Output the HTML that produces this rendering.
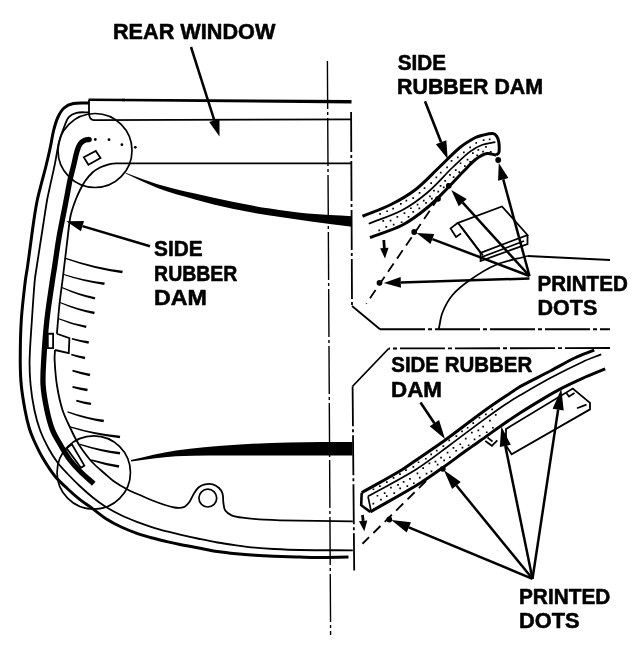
<!DOCTYPE html>
<html><head><meta charset="utf-8"><title>Rear window side rubber dam</title>
<style>
html,body{margin:0;padding:0;background:#fff}
svg{display:block;will-change:transform}
text{font-family:"Liberation Sans",sans-serif;font-weight:bold;fill:#000;stroke:#000;stroke-width:0.55px;stroke-linejoin:round}
</style></head><body>
<svg width="640" height="654" viewBox="0 0 640 654">
<rect width="640" height="654" fill="#fff"/>
<path d="M88.5 99.8 L125 99.95" fill="none" stroke="#000" stroke-width="2.5" />
<path d="M122 98.7 L351.5 100.1 L351.5 103.4 L122 101.3Z" fill="#000" />
<path d="M89 100 L89 113 Q89.2 120.1 94 120.1 L351.3 119.4" fill="none" stroke="#000" stroke-width="1.8" />
<path d="M89.00 103.00 C83.80 103.17 78.40 102.50 73.40 103.50 C70.06 104.17 66.49 105.77 64.00 108.00 C61.29 110.43 59.38 114.10 57.80 117.50 C55.97 121.44 54.81 125.76 53.75 130.00 C52.21 136.17 51.35 142.52 50.00 148.75 C48.60 155.19 47.09 161.61 45.50 168.00 C44.25 173.02 42.78 177.99 41.50 183.00 C40.05 188.65 38.47 194.29 37.30 200.00 C35.94 206.62 34.88 213.31 33.90 220.00 C31.58 235.81 29.64 251.68 27.40 267.50 C26.81 271.68 25.89 275.81 25.40 280.00 C23.85 293.31 22.16 306.63 21.30 320.00 C20.44 333.30 20.26 346.67 20.25 360.00 C20.24 368.34 20.46 376.71 21.25 385.00 C22.05 393.38 23.47 401.72 25.00 410.00 C26.12 416.05 27.48 422.10 29.20 428.00 C30.40 432.10 31.99 436.10 33.75 440.00 C36.43 445.94 39.21 451.88 42.50 457.50 C46.29 463.97 50.33 470.41 55.00 476.25 C58.66 480.83 63.20 484.72 67.50 488.75 C71.54 492.54 75.67 496.26 80.00 499.70 C84.00 502.88 88.37 505.58 92.50 508.60 C96.90 511.82 101.02 515.47 105.60 518.40 C110.60 521.60 115.89 524.45 121.25 527.00 C126.32 529.41 131.60 531.43 136.90 533.30 C142.02 535.10 147.27 536.55 152.50 538.00 C157.63 539.42 162.82 540.67 168.00 541.90 C171.98 542.84 175.99 543.70 180.00 544.50 C186.24 545.74 192.50 546.83 198.75 548.00 C205.00 549.17 211.22 550.54 217.50 551.50 C223.72 552.45 229.99 553.12 236.25 553.75 C242.49 554.37 248.74 554.84 255.00 555.25 C261.24 555.66 267.50 555.96 273.75 556.20 C282.50 556.54 291.25 556.76 300.00 557.00 C305.63 557.16 311.27 557.40 316.90 557.40 C327.43 557.40 337.97 557.13 348.50 557.00" fill="none" stroke="#000" stroke-width="3.0" />
<path d="M89.00 112.30 C84.83 112.47 80.44 111.85 76.50 112.80 C73.69 113.48 70.66 115.10 68.75 117.20 C66.66 119.50 65.77 123.00 64.50 126.00 C63.25 128.94 62.16 131.96 61.20 135.00 C60.06 138.62 59.01 142.29 58.20 146.00 C56.94 151.76 56.18 157.62 55.00 163.40 C53.18 172.29 51.11 181.13 49.20 190.00 C48.48 193.33 47.68 196.65 47.10 200.00 C45.88 206.98 44.89 214.00 43.80 221.00 C41.39 236.50 38.97 251.99 36.60 267.50 C35.97 271.66 35.18 275.81 34.80 280.00 C33.61 293.31 32.77 306.66 31.90 320.00 C31.03 333.33 29.87 346.66 29.60 360.00 C29.43 368.33 29.80 376.71 30.60 385.00 C31.40 393.38 32.68 401.76 34.40 410.00 C35.81 416.76 37.60 423.53 40.00 430.00 C42.39 436.45 45.49 442.69 48.75 448.75 C51.32 453.52 54.25 458.17 57.50 462.50 C60.50 466.50 64.05 470.11 67.50 473.75 C71.55 478.03 75.70 482.22 80.00 486.25 C84.04 490.04 88.18 493.75 92.50 497.20 C96.71 500.56 101.04 503.83 105.60 506.70 C110.63 509.87 115.90 512.70 121.25 515.30 C126.34 517.77 131.62 519.87 136.90 521.90 C142.03 523.87 147.25 525.65 152.50 527.30 C157.62 528.91 162.81 530.32 168.00 531.70 C171.98 532.76 175.99 533.68 180.00 534.60 C186.24 536.03 192.49 537.43 198.75 538.75 C204.99 540.06 211.22 541.40 217.50 542.50 C223.72 543.59 229.99 544.45 236.25 545.30 C242.49 546.15 248.74 546.98 255.00 547.60 C261.24 548.22 267.49 548.67 273.75 549.00 C282.49 549.47 291.25 549.86 300.00 550.00 C317.60 550.29 335.20 550.20 352.80 550.30" fill="none" stroke="#000" stroke-width="1.8" />
<path d="M115.00 163.30 C112.67 163.73 110.28 163.96 108.00 164.60 C105.28 165.36 102.51 166.22 100.00 167.50 C97.34 168.85 94.69 170.49 92.50 172.50 C89.69 175.07 87.22 178.14 85.00 181.25 C83.06 183.97 81.50 187.00 80.00 190.00 C78.37 193.25 76.92 196.61 75.60 200.00 C74.19 203.61 72.91 207.29 71.80 211.00 C71.04 213.54 70.39 216.13 70.00 218.75 C68.79 226.80 67.98 234.91 67.00 243.00 C65.58 254.66 64.23 266.34 62.80 278.00 C61.70 287.00 60.35 295.98 59.40 305.00 C58.39 314.56 57.73 324.17 56.90 333.75" fill="none" stroke="#000" stroke-width="1.8" />
<path d="M55.00 350.00 C54.87 353.33 54.42 356.67 54.60 360.00 C55.05 368.34 55.60 376.75 56.90 385.00 C58.23 393.42 59.92 401.90 62.50 410.00 C64.70 416.90 68.22 423.39 71.25 430.00 C72.80 433.39 74.42 436.76 76.25 440.00 C78.17 443.42 80.20 446.82 82.50 450.00 C85.62 454.32 88.84 458.64 92.50 462.50 C96.34 466.56 100.80 470.03 105.00 473.75 C107.77 476.20 110.38 478.89 113.40 481.00 C117.88 484.14 122.65 486.95 127.50 489.50 C132.05 491.89 136.89 493.73 141.60 495.80 C145.22 497.39 148.82 499.05 152.50 500.50 C156.62 502.12 160.79 503.65 165.00 505.00 C168.09 505.99 171.23 506.91 174.40 507.50 C176.23 507.84 178.15 507.94 180.00 507.80 C181.59 507.68 183.38 507.51 184.70 506.70 C186.52 505.58 188.14 503.80 189.40 502.00 C191.24 499.36 192.27 496.14 194.00 493.40 C195.39 491.21 196.80 488.80 198.75 487.20 C200.46 485.80 202.81 484.84 205.00 484.40 C207.49 483.90 210.37 483.77 212.80 484.40 C215.04 484.97 217.30 486.42 219.00 488.00 C220.53 489.42 221.91 491.40 222.50 493.40 C223.37 496.33 222.90 499.70 223.40 502.80 C223.83 505.43 223.92 508.49 225.30 510.60 C226.65 512.66 229.23 514.32 231.60 515.30 C234.96 516.69 238.82 517.21 242.50 517.70 C249.75 518.67 257.09 519.19 264.40 519.70 C269.59 520.06 274.80 520.21 280.00 520.30 C304.26 520.74 328.53 520.97 352.80 521.30" fill="none" stroke="#000" stroke-width="1.8" />
<path d="M351.3 163.3 L115 163.3" fill="none" stroke="#000" stroke-width="1.8" />
<circle cx="207.8" cy="498.1" r="8.9" fill="none" stroke="#000" stroke-width="1.7"/>
<circle cx="95" cy="150.5" r="37" fill="none" stroke="#000" stroke-width="1.7"/>
<circle cx="93.75" cy="472.5" r="36.7" fill="none" stroke="#000" stroke-width="1.7"/>
<path d="M89.50 139.50 C88.00 139.70 86.33 139.49 85.00 140.10 C83.23 140.91 81.33 142.17 80.20 143.75 C78.67 145.89 77.79 148.66 77.00 151.25 C75.64 155.74 74.86 160.42 73.75 165.00 C72.53 170.01 71.10 174.97 70.00 180.00 C68.92 184.97 68.15 190.00 67.20 195.00 C66.25 200.00 65.26 205.00 64.30 210.00 C62.53 219.17 60.57 228.30 59.00 237.50 C57.30 247.47 56.03 257.50 54.50 267.50 C53.86 271.67 53.10 275.82 52.50 280.00 C50.57 293.32 48.36 306.62 46.90 320.00 C45.45 333.29 44.53 346.65 43.75 360.00 C43.26 368.32 42.58 376.71 43.10 385.00 C43.63 393.38 45.18 401.76 46.90 410.00 C48.31 416.76 49.97 423.60 52.50 430.00 C54.75 435.69 58.15 440.94 61.25 446.25 C63.99 450.94 66.75 455.67 70.00 460.00 C73.00 464.00 76.46 467.71 80.00 471.25 C84.37 475.62 89.17 479.58 93.75 483.75" fill="none" stroke="#000" stroke-width="5.3" stroke-linecap="butt"/>
<circle cx="89.3" cy="139.5" r="2.5" fill="#000"/>
<circle cx="95.3" cy="139.5" r="1.4" fill="#000"/>
<circle cx="109" cy="139.7" r="1.4" fill="#000"/>
<circle cx="121.9" cy="144.7" r="1.4" fill="#000"/>
<circle cx="135.3" cy="147.3" r="1.4" fill="#000"/>
<path d="M83.75 157.20 L95.80 151.00 L100.50 158.00 L88.40 164.70Z" fill="none" stroke="#000" stroke-width="1.8" />
<path d="M125.60 172.80 C136.23 176.60 146.70 180.96 157.50 184.20 C169.83 187.90 182.46 190.66 195.00 193.60 C207.46 196.52 219.96 199.29 232.50 201.80 C244.96 204.29 257.45 206.64 270.00 208.60 C282.45 210.54 294.96 212.34 307.50 213.50 C322.29 214.87 337.17 215.30 352.00 216.20 L352 226.8 L352.00 226.80 C337.17 224.87 322.32 223.02 307.50 221.00 C294.99 219.29 282.46 217.63 270.00 215.60 C257.46 213.56 244.91 211.46 232.50 208.80 C219.91 206.10 207.41 202.94 195.00 199.50 C182.41 196.01 169.72 192.56 157.50 188.00 C146.59 183.93 136.23 178.40 125.60 173.60Z" fill="#000" />
<path d="M131.00 460.00 C146.00 456.87 160.86 452.84 176.00 450.60 C194.70 447.84 213.63 446.37 232.50 445.00 C251.30 443.64 270.16 442.87 289.00 442.40 C310.16 441.87 331.33 442.13 352.50 442.00 L352.5 455.5 L352.50 455.50 C331.33 455.50 310.17 455.50 289.00 455.50 C270.17 455.50 251.33 455.38 232.50 455.50 C213.67 455.63 194.78 455.14 176.00 456.25 C160.94 457.14 146.00 459.75 131.00 461.50Z" fill="#000" />
<path d="M65.46 258.88 Q93.84 269.02 122.22 273.17 L122.78 270.83 Q94.26 267.28 65.74 257.72Z" fill="#000" />
<path d="M63.62 275.09 Q83.93 282.00 104.23 284.92 L104.77 282.58 Q84.32 280.25 63.88 273.91Z" fill="#000" />
<path d="M61.71 288.07 Q78.17 295.76 94.63 299.44 L95.37 297.16 Q78.73 294.04 62.09 286.93Z" fill="#000" />
<path d="M59.83 303.07 Q76.99 310.61 94.15 314.15 L94.85 311.85 Q77.51 308.89 60.17 301.93Z" fill="#000" />
<path d="M58.58 319.33 Q72.24 325.19 85.91 328.05 L86.59 325.75 Q72.76 323.46 58.92 318.17Z" fill="#000" />
<path d="M71.73 339.53 Q80.11 342.10 88.49 343.67 L89.01 341.33 Q80.54 340.15 72.07 337.97Z" fill="#000" />
<path d="M71.05 355.17 Q77.87 357.67 84.70 359.16 L85.30 356.84 Q78.38 355.73 71.45 353.63Z" fill="#000" />
<path d="M72.30 371.38 Q81.01 374.27 89.71 376.16 L90.29 373.84 Q81.49 372.33 72.70 369.82Z" fill="#000" />
<path d="M72.34 387.68 Q79.80 389.93 87.26 391.18 L87.74 388.82 Q80.20 387.97 72.66 386.12Z" fill="#000" />
<path d="M76.08 401.38 Q83.41 403.73 90.74 405.07 L91.26 402.73 Q83.84 401.77 76.42 399.82Z" fill="#000" />
<path d="M67.35 412.48 Q85.41 419.32 103.46 422.16 L104.04 419.84 Q85.84 417.58 67.65 411.32Z" fill="#000" />
<path d="M69.88 427.49 Q94.82 435.33 119.76 438.18 L120.24 435.82 Q95.18 433.57 70.12 426.31Z" fill="#000" />
<path d="M79.86 445.03 Q99.79 451.80 119.72 454.57 L120.28 452.03 Q100.21 449.90 80.14 443.77Z" fill="#000" />
<path d="M91.10 460.63 Q104.90 465.20 118.70 467.77 L119.30 465.23 Q105.35 463.30 91.40 459.37Z" fill="#000" />
<path d="M47.80 333.75 L53.10 333.75 L53.10 348.10 L47.80 348.10Z" fill="#fff" stroke="#000" stroke-width="1.8" />
<path d="M56.90 333.75 L69.40 338.10 L68.75 353.10 L55.00 350.00" fill="none" stroke="#000" stroke-width="1.8" />
<path d="M66.60 448.30 L71.90 444.40 L84.40 465.60 L80.90 467.70Z" fill="none" stroke="#000" stroke-width="1.8" />
<path d="M327.4 61 L330.6 635" fill="none" stroke="#000" stroke-width="1.4" stroke-dasharray="48 3 3 3"/>
<path d="M351.1 112 L352 306" fill="none" stroke="#000" stroke-width="1.8" stroke-dasharray="40 3 3 3"/>
<path d="M352 306 L380 329.25" fill="none" stroke="#000" stroke-width="1.8" />
<path d="M380 329.25 L610 329.25" fill="none" stroke="#000" stroke-width="1.8" stroke-dasharray="45 3 4 3"/>
<path d="M610 348 L388.75 348.5" fill="none" stroke="#000" stroke-width="1.8" stroke-dasharray="45 3 4 3"/>
<path d="M388.75 348.5 L352.6 386.25" fill="none" stroke="#000" stroke-width="1.8" />
<path d="M352.6 386.25 L354.2 570.5" fill="none" stroke="#000" stroke-width="1.8" stroke-dasharray="40 3 3 3"/>
<line x1="191.00" y1="47.00" x2="214.34" y2="120.30" stroke="#000" stroke-width="2.5"/>
<polygon points="219.50,136.50 209.20,121.94 219.49,118.66" fill="#000"/>
<line x1="150.00" y1="246.30" x2="82.49" y2="226.08" stroke="#000" stroke-width="2.5"/>
<polygon points="66.20,221.20 84.03,220.90 80.94,231.25" fill="#000"/>
<line x1="425.00" y1="101.30" x2="441.11" y2="142.25" stroke="#000" stroke-width="2.6"/>
<polygon points="447.70,159.00 435.90,144.30 446.32,140.20" fill="#000"/>
<line x1="420.50" y1="402.50" x2="434.41" y2="423.22" stroke="#000" stroke-width="2.6"/>
<polygon points="445.00,439.00 429.76,426.35 439.06,420.10" fill="#000"/>
<text x="112.90" y="39.20" textLength="162.50" lengthAdjust="spacingAndGlyphs" font-size="21.8">REAR WINDOW</text>
<text x="154.00" y="256.30" textLength="48.60" lengthAdjust="spacingAndGlyphs" font-size="21.8">SIDE</text>
<text x="154.10" y="280.80" textLength="83.20" lengthAdjust="spacingAndGlyphs" font-size="21.8">RUBBER</text>
<text x="154.10" y="305.10" textLength="52.80" lengthAdjust="spacingAndGlyphs" font-size="21.8">DAM</text>
<text x="397.80" y="69.80" textLength="48.30" lengthAdjust="spacingAndGlyphs" font-size="21.8">SIDE</text>
<text x="397.00" y="94.30" textLength="146.10" lengthAdjust="spacingAndGlyphs" font-size="21.8">RUBBER DAM</text>
<text x="537.45" y="290.80" textLength="90.35" lengthAdjust="spacingAndGlyphs" font-size="21.8">PRINTED</text>
<text x="537.45" y="315.20" textLength="59.85" lengthAdjust="spacingAndGlyphs" font-size="21.8">DOTS</text>
<text x="391.25" y="372.40" textLength="140.95" lengthAdjust="spacingAndGlyphs" font-size="21.8">SIDE RUBBER</text>
<text x="391.00" y="397.20" textLength="50.90" lengthAdjust="spacingAndGlyphs" font-size="21.8">DAM</text>
<text x="519.00" y="603.50" textLength="91.30" lengthAdjust="spacingAndGlyphs" font-size="21.8">PRINTED</text>
<text x="519.00" y="628.10" textLength="60.55" lengthAdjust="spacingAndGlyphs" font-size="21.8">DOTS</text>
<path d="M362.50 216.25 C371.67 212.50 381.17 209.42 390.00 205.00 C398.67 200.67 407.34 195.90 415.00 190.00 C424.01 183.06 431.69 174.35 440.00 166.50 C446.69 160.19 452.92 153.31 460.00 147.50 C464.59 143.74 469.80 140.62 475.00 137.80 C477.30 136.55 479.94 135.90 482.50 135.30 C485.88 134.50 489.54 133.37 492.80 133.60 C494.31 133.71 495.91 135.06 496.80 136.30 C497.91 137.86 498.54 140.03 498.80 142.00 C499.24 145.43 499.58 149.31 498.90 152.50 C498.64 153.71 496.97 154.30 496.00 155.20" fill="none" stroke="#000" stroke-width="3.0" />
<path d="M368.75 223.75 C380.00 219.17 391.84 215.67 402.50 210.00 C411.42 205.25 419.78 199.06 427.50 192.50 C436.45 184.90 444.01 175.67 452.50 167.50 C458.18 162.04 463.76 156.32 470.00 151.60 C473.76 148.76 478.10 146.43 482.50 144.80 C486.57 143.29 491.10 143.07 495.40 142.20" fill="none" stroke="#000" stroke-width="1.7" />
<path d="M370.00 237.50 C380.83 233.33 392.29 230.33 402.50 225.00 C411.45 220.33 419.67 213.94 427.50 207.50 C435.00 201.34 441.64 194.10 448.50 187.20 C453.90 181.77 458.92 175.96 464.30 170.50 C468.25 166.49 472.03 162.13 476.50 158.80 C479.60 156.49 483.35 154.27 487.00 153.60 C489.85 153.07 493.00 154.67 496.00 155.20" fill="none" stroke="#000" stroke-width="3.0" />
<path d="M379.2 213.0h1.7v1.7h-1.7zM386.3 210.4h1.7v1.7h-1.7zM392.3 207.7h1.7v1.7h-1.7zM400.0 203.1h1.7v1.7h-1.7zM405.5 199.8h1.7v1.7h-1.7zM412.3 197.3h1.7v1.7h-1.7zM418.7 192.1h1.7v1.7h-1.7zM423.7 187.2h1.7v1.7h-1.7zM430.3 182.2h1.7v1.7h-1.7zM435.5 176.6h1.7v1.7h-1.7zM439.9 171.7h1.7v1.7h-1.7zM446.2 166.6h1.7v1.7h-1.7zM450.7 160.1h1.7v1.7h-1.7zM456.9 156.5h1.7v1.7h-1.7zM463.0 151.5h1.7v1.7h-1.7zM469.3 146.5h1.7v1.7h-1.7zM475.4 142.1h1.7v1.7h-1.7zM482.8 139.2h1.7v1.7h-1.7zM488.8 138.6h1.7v1.7h-1.7zM382.4 220.1h1.7v1.7h-1.7zM389.7 219.7h1.7v1.7h-1.7zM396.5 216.0h1.7v1.7h-1.7zM403.6 212.2h1.7v1.7h-1.7zM410.0 207.4h1.7v1.7h-1.7zM416.7 203.8h1.7v1.7h-1.7zM422.9 199.8h1.7v1.7h-1.7zM429.1 195.6h1.7v1.7h-1.7zM433.1 189.8h1.7v1.7h-1.7zM439.7 185.1h1.7v1.7h-1.7zM444.3 180.0h1.7v1.7h-1.7zM449.1 174.1h1.7v1.7h-1.7zM454.9 169.3h1.7v1.7h-1.7zM459.7 162.4h1.7v1.7h-1.7zM466.7 158.7h1.7v1.7h-1.7zM472.0 152.2h1.7v1.7h-1.7zM477.5 149.0h1.7v1.7h-1.7zM485.1 146.0h1.7v1.7h-1.7zM378.4 229.5h1.7v1.7h-1.7zM385.4 226.1h1.7v1.7h-1.7zM392.8 223.7h1.7v1.7h-1.7zM400.8 221.4h1.7v1.7h-1.7zM407.7 216.0h1.7v1.7h-1.7zM412.4 211.1h1.7v1.7h-1.7zM418.5 207.6h1.7v1.7h-1.7zM425.2 202.1h1.7v1.7h-1.7zM431.0 197.7h1.7v1.7h-1.7zM437.4 190.8h1.7v1.7h-1.7zM442.9 186.5h1.7v1.7h-1.7zM447.2 183.1h1.7v1.7h-1.7zM452.8 176.3h1.7v1.7h-1.7zM458.4 171.2h1.7v1.7h-1.7zM464.0 165.3h1.7v1.7h-1.7zM469.4 161.1h1.7v1.7h-1.7zM476.3 154.4h1.7v1.7h-1.7zM482.2 150.7h1.7v1.7h-1.7zM489.9 151.1h1.7v1.7h-1.7z" fill="#000"/>
<path d="M438.75 197.5 L366.25 303.75" fill="none" stroke="#000" stroke-width="1.8" stroke-dasharray="10 6"/>
<circle cx="448.75" cy="185.8" r="2.9" fill="#000"/>
<circle cx="438" cy="198.8" r="2.9" fill="#000"/>
<circle cx="414.2" cy="232" r="2.9" fill="#000"/>
<circle cx="379.5" cy="282.8" r="2.9" fill="#000"/>
<circle cx="498.2" cy="160" r="2.9" fill="#000"/>
<line x1="529.50" y1="276.00" x2="503.26" y2="179.41" stroke="#000" stroke-width="2.5"/>
<polygon points="498.80,163.00 508.47,177.99 498.05,180.82" fill="#000"/>
<line x1="529.50" y1="276.00" x2="462.74" y2="202.58" stroke="#000" stroke-width="2.5"/>
<polygon points="451.30,190.00 466.73,198.94 458.74,206.21" fill="#000"/>
<line x1="529.50" y1="276.00" x2="432.39" y2="239.05" stroke="#000" stroke-width="2.5"/>
<polygon points="416.50,233.00 434.31,234.00 430.47,244.09" fill="#000"/>
<line x1="529.50" y1="278.50" x2="400.79" y2="282.48" stroke="#000" stroke-width="2.5"/>
<polygon points="383.80,283.00 400.63,277.08 400.96,287.87" fill="#000"/>
<line x1="383.80" y1="240.00" x2="384.32" y2="248.02" stroke="#000" stroke-width="2.8"/>
<polygon points="385.00,258.50 380.13,248.29 388.51,247.75" fill="#000"/>
<path d="M458.00 222.80 L502.00 206.50 L527.50 235.00 L480.60 252.80Z" fill="none" stroke="#000" stroke-width="1.8" />
<path d="M458.00 222.80 L450.60 228.40 L456.00 237.00 L461.00 233.50" fill="none" stroke="#000" stroke-width="1.8" />
<path d="M480.60 252.80 L480.60 261.00 L527.50 244.00 L527.50 235.00" fill="none" stroke="#000" stroke-width="1.8" />
<path d="M482.00 257.00 L524.00 241.00" fill="none" stroke="#000" stroke-width="1.7" />
<path d="M461.00 226.50 L483.00 255.50" fill="none" stroke="#000" stroke-width="1.7" />
<path d="M438.75 329.25 C440.00 323.67 440.39 317.75 442.50 312.50 C444.98 306.33 448.22 300.05 452.50 295.00 C457.39 289.22 463.72 284.37 470.00 280.00 C478.09 274.37 486.55 268.78 495.60 265.00 C505.71 260.78 516.87 259.00 527.50 256.00" fill="none" stroke="#000" stroke-width="1.8" />
<path d="M527.5 256 L610 260" fill="none" stroke="#000" stroke-width="1.8" />
<path d="M361.70 492.70 C375.00 485.13 388.52 477.92 401.60 470.00 C407.95 466.15 413.87 461.61 420.00 457.40 C428.34 451.67 436.78 446.09 445.00 440.20 C452.41 434.89 459.58 429.23 466.90 423.80 C474.68 418.03 482.39 412.17 490.30 406.60 C498.00 401.17 505.93 396.06 513.75 390.80 C515.83 389.40 517.79 387.79 520.00 386.60 C530.29 381.03 540.87 375.93 551.25 370.50 C559.10 366.40 566.70 361.78 574.70 358.00 C581.02 355.01 587.70 352.80 594.20 350.20" fill="none" stroke="#000" stroke-width="3.0" />
<path d="M368.00 496.30 C383.87 487.47 400.25 479.44 415.60 469.80 C428.00 462.01 439.43 452.69 451.25 444.00 C461.73 436.29 471.99 428.28 482.50 420.60 C490.24 414.94 498.05 409.36 506.00 404.00 C510.55 400.93 515.26 398.08 520.00 395.30 C530.34 389.24 540.68 383.15 551.25 377.50 C561.51 372.01 571.94 366.78 582.50 361.90 C588.61 359.08 595.00 356.90 601.25 354.40" fill="none" stroke="#000" stroke-width="1.7" />
<path d="M370.30 511.90 C386.87 502.33 403.69 493.17 420.00 483.20 C428.06 478.27 435.69 472.66 443.40 467.20 C451.32 461.59 459.02 455.66 466.90 450.00 C473.08 445.56 479.40 441.31 485.60 436.90 C490.33 433.54 494.94 430.01 499.70 426.70 C506.40 422.04 513.14 417.41 520.00 413.00 C527.70 408.05 535.53 403.28 543.40 398.60 C549.33 395.08 555.28 391.58 561.40 388.40 C568.32 384.81 575.38 381.47 582.50 378.30 C589.98 374.97 597.63 372.03 605.20 368.90" fill="none" stroke="#000" stroke-width="3.0" />
<path d="M372.6 488.4h1.7v1.7h-1.7zM379.0 485.2h1.7v1.7h-1.7zM386.0 481.3h1.7v1.7h-1.7zM392.7 477.0h1.7v1.7h-1.7zM399.1 473.3h1.7v1.7h-1.7zM405.1 469.3h1.7v1.7h-1.7zM412.5 466.0h1.7v1.7h-1.7zM417.7 461.4h1.7v1.7h-1.7zM425.0 457.9h1.7v1.7h-1.7zM430.3 453.5h1.7v1.7h-1.7zM435.9 449.8h1.7v1.7h-1.7zM442.5 445.2h1.7v1.7h-1.7zM448.4 439.5h1.7v1.7h-1.7zM455.5 435.3h1.7v1.7h-1.7zM461.2 430.6h1.7v1.7h-1.7zM466.8 426.9h1.7v1.7h-1.7zM472.4 422.2h1.7v1.7h-1.7zM478.6 416.9h1.7v1.7h-1.7zM485.0 413.6h1.7v1.7h-1.7zM491.3 408.6h1.7v1.7h-1.7zM376.6 494.9h1.7v1.7h-1.7zM383.8 492.3h1.7v1.7h-1.7zM390.1 486.8h1.7v1.7h-1.7zM397.2 484.1h1.7v1.7h-1.7zM402.8 481.0h1.7v1.7h-1.7zM409.1 478.1h1.7v1.7h-1.7zM416.6 472.5h1.7v1.7h-1.7zM422.3 467.3h1.7v1.7h-1.7zM428.6 462.6h1.7v1.7h-1.7zM434.6 460.8h1.7v1.7h-1.7zM440.2 456.8h1.7v1.7h-1.7zM446.7 451.8h1.7v1.7h-1.7zM452.6 447.0h1.7v1.7h-1.7zM459.4 443.4h1.7v1.7h-1.7zM464.9 437.7h1.7v1.7h-1.7zM471.0 431.8h1.7v1.7h-1.7zM477.5 429.5h1.7v1.7h-1.7zM482.3 425.7h1.7v1.7h-1.7zM489.1 419.8h1.7v1.7h-1.7zM494.9 414.1h1.7v1.7h-1.7zM372.5 502.8h1.7v1.7h-1.7zM380.1 498.7h1.7v1.7h-1.7zM385.9 495.2h1.7v1.7h-1.7zM393.4 492.3h1.7v1.7h-1.7zM399.3 487.5h1.7v1.7h-1.7zM406.5 485.3h1.7v1.7h-1.7zM413.0 482.4h1.7v1.7h-1.7zM418.9 476.7h1.7v1.7h-1.7zM425.7 472.8h1.7v1.7h-1.7zM430.6 470.6h1.7v1.7h-1.7zM436.8 463.7h1.7v1.7h-1.7zM443.3 459.6h1.7v1.7h-1.7zM449.0 456.4h1.7v1.7h-1.7zM455.3 449.9h1.7v1.7h-1.7zM461.6 446.7h1.7v1.7h-1.7zM467.8 444.4h1.7v1.7h-1.7zM473.7 438.6h1.7v1.7h-1.7zM478.8 434.9h1.7v1.7h-1.7zM485.9 431.4h1.7v1.7h-1.7zM492.1 426.9h1.7v1.7h-1.7z" fill="#000"/>
<path d="M361.70 492.70 L361.20 505.20 L370.30 511.90" fill="none" stroke="#000" stroke-width="2.6" />
<path d="M368.00 496.30 L371.00 510.80" fill="none" stroke="#000" stroke-width="1.7" />
<path d="M426 481 L362.5 543.75" fill="none" stroke="#000" stroke-width="1.8" stroke-dasharray="10 6"/>
<circle cx="389.3" cy="519.5" r="2.9" fill="#000"/>
<circle cx="442.8" cy="468.8" r="2.9" fill="#000"/>
<line x1="532.50" y1="578.80" x2="408.84" y2="527.30" stroke="#000" stroke-width="2.5"/>
<polygon points="391.30,520.00 410.95,522.23 406.73,532.38" fill="#000"/>
<line x1="532.50" y1="578.80" x2="456.44" y2="485.50" stroke="#000" stroke-width="2.5"/>
<polygon points="443.80,470.00 460.78,481.96 452.10,489.04" fill="#000"/>
<line x1="532.50" y1="578.80" x2="505.31" y2="445.89" stroke="#000" stroke-width="2.5"/>
<polygon points="501.30,426.30 510.80,444.77 499.82,447.02" fill="#000"/>
<line x1="532.50" y1="578.80" x2="558.15" y2="409.56" stroke="#000" stroke-width="2.5"/>
<polygon points="561.30,388.80 563.69,410.40 552.62,408.72" fill="#000"/>
<line x1="362.50" y1="515.00" x2="363.15" y2="520.86" stroke="#000" stroke-width="2.8"/>
<polygon points="364.30,531.30 358.97,521.32 367.32,520.40" fill="#000"/>
<path d="M506.00 429.00 L572.80 388.60 L590.00 402.80 L590.00 409.40 L511.60 454.20 L506.00 445.50Z" fill="none" stroke="#000" stroke-width="1.8" />
<path d="M577.00 408.30 L586.50 404.60" fill="none" stroke="#000" stroke-width="1.7" />
<path d="M566.00 392.50 L569.00 396.50 L574.50 393.00" fill="none" stroke="#000" stroke-width="1.7" />
<path d="M485.30 441.00 L491.90 445.80 L497.30 440.30" fill="none" stroke="#000" stroke-width="1.8" />
<path d="M487.50 437.50 L492.50 441.50" fill="none" stroke="#000" stroke-width="1.7" />
</svg>
</body></html>
